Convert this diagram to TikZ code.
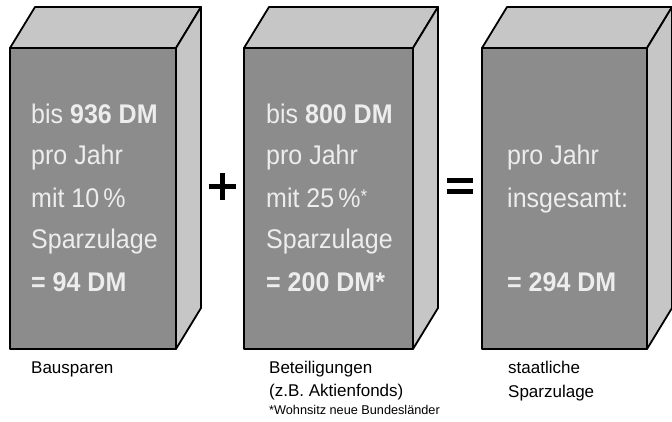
\documentclass[tikz,border=0pt]{standalone}
\usepackage{fontspec}
\setmainfont{Liberation Sans}
\definecolor{frontgray}{HTML}{8C8C8C}
\definecolor{lightgray}{HTML}{C6C6C6}
\definecolor{textlight}{HTML}{EDEDED}
\newcommand{\tallt}[1]{\scalebox{1}[1.08]{#1}}
\tikzset{
  face/.style={draw=black, line width=1.8pt, line join=round},
  frontface/.style={face, fill=frontgray},
  topface/.style={face, fill=lightgray},
  boxtext/.style={anchor=base west, inner sep=0pt, text=textlight, font=\fontsize{25}{30}\selectfont},
  caption/.style={anchor=base west, inner sep=0pt, text=black, font=\fontsize{17}{20}\selectfont},
  smallcaption/.style={anchor=base west, inner sep=0pt, text=black, font=\fontsize{12.7}{15}\selectfont},
  sign/.style={line width=5pt, draw=black}
}
\newcommand{\cuboid}[2]{%
  \fill[lightgray] (#1,48) -- (#1+25,7) -- (#2+25,7) -- (#2+25,308) -- (#2,349) -- cycle;
  \draw[topface] (#1,48) -- (#1+25,7) -- (#2+25,7) -- (#2,48) -- cycle;
  \draw[topface] (#2,48) -- (#2+25,7) -- (#2+25,308) -- (#2,349) -- cycle;
  \draw[frontface] (#1,48) rectangle (#2,349);
}
\begin{document}
\begin{tikzpicture}[x=1pt,y=-1pt]
\useasboundingbox (0,0) rectangle (672,421);
% boxes
\cuboid{10}{176}
\cuboid{244}{413}
\cuboid{482}{647}
% box 1 text
\node[boxtext] (a1) at (31,123) {\tallt{bis \textbf{936 DM}}};
\node[boxtext] (a2) at (31,164) {\tallt{pro Jahr}};
\node[boxtext] (a3) at (31,207) {\tallt{mit 10\,\%}};
\node[boxtext] (a4) at (31,248) {\tallt{Sparzulage}};
\node[boxtext] (a5) at (31,291) {\tallt{\textbf{= 94 DM}}};
% box 2 text
\node[boxtext] (b1) at (266,123) {\tallt{bis \textbf{800 DM}}};
\node[boxtext] (b2) at (266,164) {\tallt{pro Jahr}};
\node[boxtext] (b3) at (266,207) {\tallt{mit 25\,\%\raisebox{4pt}{\fontsize{17}{17}\selectfont *}}};
\node[boxtext] (b4) at (266,248) {\tallt{Sparzulage}};
\node[boxtext] (b5) at (266,291) {\tallt{\textbf{= 200 DM*}}};
% box 3 text
\node[boxtext] (c1) at (507,164) {\tallt{pro Jahr}};
\node[boxtext] (c2) at (507,207) {\tallt{insgesamt:}};
\node[boxtext] (c3) at (507,291) {\tallt{\textbf{= 294 DM}}};
% signs
\coordinate (plusc) at (222,186);
\draw[sign] ([xshift=-13.5pt]plusc) -- ([xshift=13.5pt]plusc);
\draw[sign] ([yshift=-13.5pt]plusc) -- ([yshift=13.5pt]plusc);
\coordinate (eqc) at (460,186);
\draw[line width=4.5pt] ([xshift=-13pt,yshift=-5.3pt]eqc) -- ([xshift=13pt,yshift=-5.3pt]eqc);
\draw[line width=4.5pt] ([xshift=-13pt,yshift=5.3pt]eqc) -- ([xshift=13pt,yshift=5.3pt]eqc);
% captions
\node[caption] (l1) at (31,373) {Bausparen};
\node[caption] (l2) at (269,373) {Beteiligungen};
\node[caption] (l3) at (269,396) {(z.B. Aktienfonds)};
\node[smallcaption] (l4) at (269,414) {*Wohnsitz neue Bundesländer};
\node[caption] (l5) at (508,373) {staatliche};
\node[caption] (l6) at (508,397) {Sparzulage};
\end{tikzpicture}
\end{document}
